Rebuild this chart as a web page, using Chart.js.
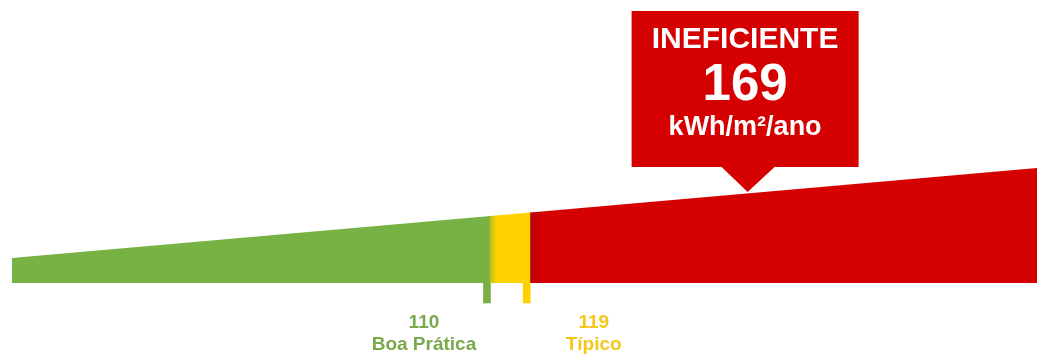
<!DOCTYPE html>
<html>
<head>
<meta charset="utf-8">
<script src="https://cdn.jsdelivr.net/npm/chart.js@4.4.0/dist/chart.umd.min.js"></script>
<style>
  html, body { margin: 0; padding: 0; background: #ffffff; }
  #wrap { width: 1037px; height: 357px; position: relative; }
</style>
</head>
<body>
<div id="wrap"><canvas id="myChart"></canvas></div>
<script>
// Data
const scaleRange = [2.5, 234.5];          // kWh/m²/ano at the left / right end of the wedge
const wedgeHeights = [25, 115];           // wedge thickness at both ends
const refValues = [110, 119];             // reference marks
const refNumbers = ['110', '119'];
const refNames = ['Boa Prática', 'Típico'];
const refColors = ['#7aaf47', '#fdd000'];
const refTextColors = ['#7aa84c', '#f4c61a'];
const currentValue = 169;
const currentRating = 'INEFICIENTE';
const currentUnit = 'kWh/m²/ano';
const calloutTip = 91;

const GREEN = '#77b244';
const YELLOW = '#ffd200';
const RED = '#d50000';

function wedgeFill(context) {
    const chart = context.chart;
    const area = chart.chartArea;
    if (!area) return GREEN;
    const x = chart.scales.x;
    const w = area.right - area.left;
    const stop = px => Math.min(1, Math.max(0, (px - area.left) / w));
    const g1 = x.getPixelForValue(refValues[0]) + 3.5;
    const g2 = x.getPixelForValue(refValues[1]) + 3.5;
    const grad = chart.ctx.createLinearGradient(area.left, 0, area.right, 0);
    grad.addColorStop(0, GREEN);
    grad.addColorStop(stop(g1 - 2), GREEN);
    grad.addColorStop(stop(g1 + 1), '#c9c21a');
    grad.addColorStop(stop(g1 + 6), YELLOW);
    grad.addColorStop(stop(g2 - 0.5), YELLOW);
    grad.addColorStop(stop(g2 + 0.5), '#b80000');
    grad.addColorStop(stop(g2 + 12), RED);
    grad.addColorStop(1, RED);
    return grad;
}

// labels under the marks and the callout box
const annotations = {
    id: 'annotations',
    afterDatasetsDraw(chart) {
        const ctx = chart.ctx;
        const x = chart.scales.x;
        const y = chart.scales.y;
        ctx.save();
        ctx.textAlign = 'center';
        ctx.textBaseline = 'alphabetic';

        const offsets = [-63, 67];
        refValues.forEach((v, i) => {
            const cx = x.getPixelForValue(v) + offsets[i];
            ctx.fillStyle = refTextColors[i];
            ctx.font = 'bold 19px "Liberation Sans", Arial, sans-serif';
            ctx.fillText(refNumbers[i], cx, 328);
            ctx.fillText(refNames[i], cx, 350);
        });

        const px = x.getPixelForValue(currentValue);
        const tipY = y.getPixelForValue(calloutTip);
        const left = px - 116, right = px + 111, top = 11, bottom = 167;
        ctx.fillStyle = RED;
        ctx.fillRect(left, top, right - left, bottom - top);
        ctx.beginPath();
        ctx.moveTo(px - 27, bottom - 1);
        ctx.lineTo(px + 28, bottom - 1);
        ctx.lineTo(px, tipY);
        ctx.closePath();
        ctx.fill();

        const cx = (left + right) / 2;
        ctx.fillStyle = '#ffffff';
        ctx.font = 'bold 30px "Liberation Sans", Arial, sans-serif';
        ctx.fillText(currentRating, cx, 48);
        ctx.font = 'bold 51px "Liberation Sans", Arial, sans-serif';
        ctx.fillText(String(currentValue), cx, 100);
        ctx.font = 'bold 27px "Liberation Sans", Arial, sans-serif';
        ctx.fillText(currentUnit, cx, 135);
        ctx.restore();
    }
};

document.addEventListener('DOMContentLoaded', function () {
    createChart();
});

function createChart() {
    const ctx = document.getElementById('myChart').getContext('2d');
    new Chart(ctx, {
        data: {
            datasets: [{
                type: 'line',
                data: [
                    { x: scaleRange[0], y: wedgeHeights[0] },
                    { x: scaleRange[1], y: wedgeHeights[1] }
                ],
                fill: 'origin',
                backgroundColor: wedgeFill,
                borderWidth: 0,
                pointRadius: 0
            }, {
                type: 'bar',
                data: refValues.map(v => ({ x: v, y: [-20, 0] })),
                backgroundColor: refColors,
                barThickness: 7,
                borderWidth: 0
            }]
        },
        options: {
            responsive: true,
            maintainAspectRatio: false,
            animation: false,
            layout: { padding: { left: 12, right: 0, top: 0, bottom: 0 } },
            scales: {
                x: { type: 'linear', min: scaleRange[0], max: scaleRange[1], offset: false, display: false },
                y: { type: 'linear', min: -74, max: 283, display: false }
            },
            plugins: {
                legend: { display: false },
                tooltip: { enabled: false }
            }
        },
        plugins: [annotations]
    });
}
</script>
</body>
</html>
